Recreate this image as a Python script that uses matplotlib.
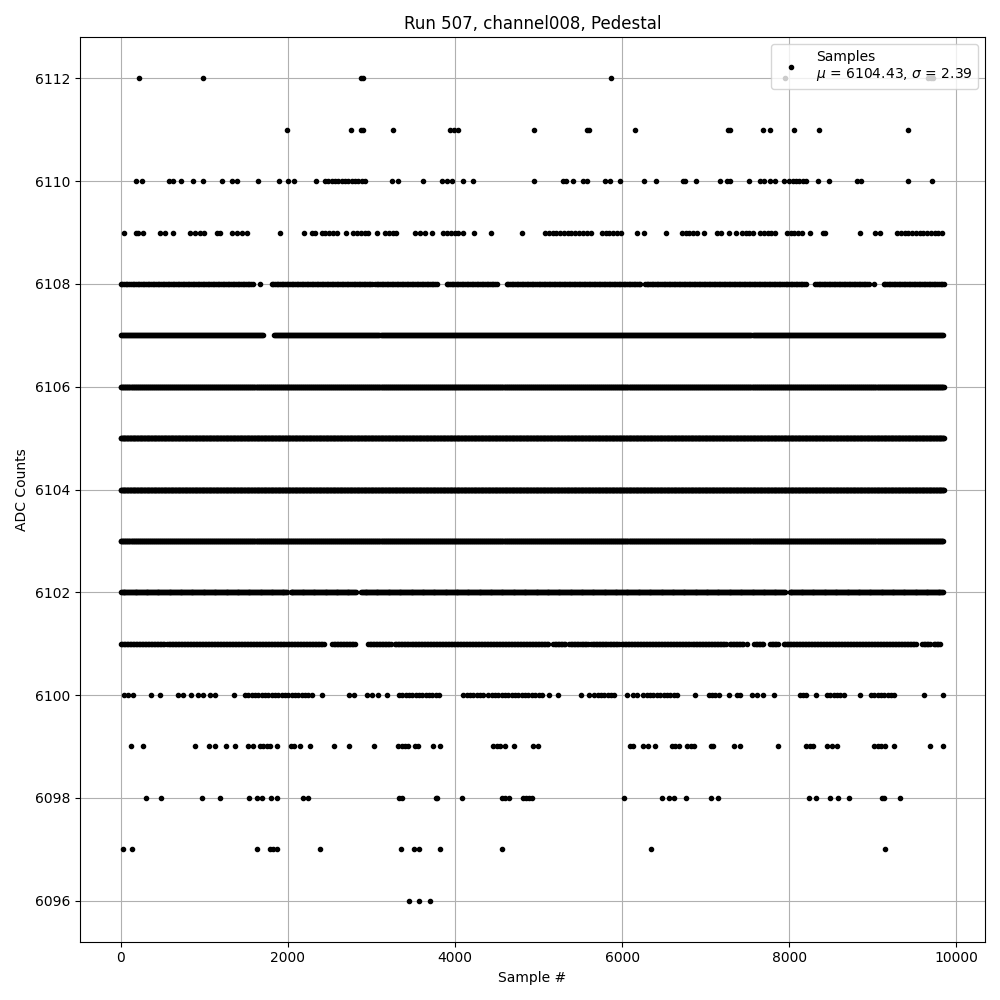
"""
Pedestal scan for run 507, channel008: ADC counts per sample.
Dense levels are stored as runs of consecutive samples (start, end) read from
the plot, sparse levels as lists of individual sample numbers.
"""

import numpy as np
import matplotlib
matplotlib.use("Agg")
import matplotlib.pyplot as plt

RUN = 507
CHANNEL = "channel008"
MU = 6104.43
SIGMA = 2.39

# --- dense levels: runs of samples, and the sample spacing inside a run ---
RUNS_6101 = [(0, 527), (555, 2443), (2531, 2814), (2962, 3241), (3281, 5118),
             (5178, 5337), (5365, 5497), (5517, 5597), (5629, 5816), (5836, 5976),
             (5996, 7254), (7285, 7453), (7580, 7692), (7772, 7872), (7932, 9529),
             (9589, 9688), (9728, 9808)]
RUNS_6102 = [(0, 1992), (2032, 2814), (2874, 7952), (8004, 9850)]
RUNS_6103 = [(0, 9840)]
RUNS_6104 = [(0, 9850)]
RUNS_6105 = [(0, 9850)]
RUNS_6106 = [(0, 9850)]
RUNS_6107 = [(0, 1705), (1836, 9850)]
RUNS_6108 = [(0, 1585), (1805, 3022), (3042, 3800), (3900, 4519), (4619, 6235),
             (6275, 8212), (8312, 8970), (9130, 9850)]
# sparse levels with a few tight clusters
RUNS_6100 = [(1485, 2303), (3329, 3840), (4100, 4359), (4399, 5058), (5665, 5916),
             (6255, 6675), (7034, 7182), (7373, 7433), (8124, 8231), (8451, 8651),
             (8978, 9269)]
RUNS_6109 = [(2403, 2583), (2783, 3002), (3162, 3341), (3860, 4060), (5078, 5497),
             (5537, 5657), (5757, 5996), (6715, 6895), (7134, 7214), (7433, 7572),
             (7652, 7852), (7972, 8172), (9290, 9850)]
RUNS_6110 = [(2443, 2942), (8000, 8212)]

LEVEL_STEP = {6100: 40, 6101: 18, 6102: 11, 6103: 8, 6104: 7, 6105: 7,
              6106: 8, 6107: 12, 6108: 20, 6109: 45, 6110: 40}

# --- isolated samples ---
PTS_6096 = [3453, 3565, 3701]
PTS_6097 = [28, 128, 1633, 1785, 1825, 1864, 2387, 3349, 3513, 3569, 3824, 4567,
            6351, 9141]
PTS_6098 = [307, 483, 974, 1189, 1537, 1625, 1685, 1793, 1864, 2176, 2243, 3330,
            3360, 3770, 3790, 4080, 4560, 4595, 4640, 4811, 4850, 4880, 4920, 6028,
            6471, 6555, 6615, 6770, 7069, 7153, 8231, 8323, 8483, 8579, 8711, 9110,
            9135, 9321]
PTS_6099 = [120, 267, 886, 1058, 1126, 1257, 1365, 1525, 1585, 1665, 1705, 1745,
            1785, 1864, 2032, 2072, 2144, 2264, 2555, 2734, 3030, 3321, 3361, 3401,
            3441, 3521, 3561, 3741, 3821, 4459, 4499, 4539, 4599, 4707, 4938, 4998,
            6088, 6135, 6247, 6315, 6399, 6595, 6635, 6675, 6775, 6820, 6863, 7063,
            7083, 7333, 7413, 7860, 8204, 8244, 8283, 8451, 8511, 8571, 9018, 9060,
            9100, 9150, 9249, 9689, 9841]
PTS_6100 = [40, 90, 150, 367, 467, 687, 747, 846, 926, 986, 1066, 1126, 1353, 2403,
            2734, 2790, 2942, 3002, 3082, 3182, 5129, 5237, 5505, 5609, 6056, 6135,
            6176, 6874, 7273, 7553, 7613, 7680, 7812, 8323, 8850, 9609, 9841]
PTS_6101 = [7493]
PTS_6108 = [1665, 9010]
PTS_6109 = [40, 180, 207, 267, 467, 527, 627, 826, 886, 946, 994, 1154, 1186, 1326,
            1386, 1446, 1506, 1904, 2192, 2284, 2324, 2691, 3062, 3521, 3581, 3641,
            3721, 4100, 4231, 4427, 4806, 6176, 6256, 6527, 6982, 7273, 7365, 8243,
            8403, 8431, 8842, 9030, 9082]
PTS_6110 = [180, 248, 579, 627, 715, 866, 986, 1213, 1333, 1393, 1644, 1896, 2004,
            2072, 2339, 3241, 3321, 3620, 3840, 3900, 3960, 4100, 4219, 4946, 5290,
            5329, 5417, 5529, 5585, 5797, 5856, 5976, 6267, 6407, 6727, 6754, 6886,
            7173, 7254, 7293, 7513, 7645, 7692, 7772, 7832, 7932, 8339, 8471, 8811,
            8862, 9417, 9708]
PTS_6111 = [1992, 2758, 2880, 2900, 3261, 3940, 3988, 4040, 4950, 5585, 5600, 6159,
            7261, 7293, 7680, 7772, 8052, 8355, 9425]
PTS_6112 = [219, 986, 2875, 2895, 5868, 7944, 9665, 9700, 9725]

RUNS = {6100: RUNS_6100, 6101: RUNS_6101, 6102: RUNS_6102, 6103: RUNS_6103,
        6104: RUNS_6104, 6105: RUNS_6105, 6106: RUNS_6106, 6107: RUNS_6107,
        6108: RUNS_6108, 6109: RUNS_6109, 6110: RUNS_6110}
POINTS = {6096: PTS_6096, 6097: PTS_6097, 6098: PTS_6098, 6099: PTS_6099,
          6100: PTS_6100, 6101: PTS_6101, 6108: PTS_6108, 6109: PTS_6109,
          6110: PTS_6110, 6111: PTS_6111, 6112: PTS_6112}


def collect():
    xs, ys = [], []
    for level, runs in RUNS.items():
        for a, b in runs:
            s = np.arange(a, b + 1, LEVEL_STEP[level])
            xs.append(s)
            ys.append(np.full(len(s), level))
    for level, pts in POINTS.items():
        xs.append(np.asarray(pts))
        ys.append(np.full(len(pts), level))
    return np.concatenate(xs), np.concatenate(ys)


def main():
    x, y = collect()
    fig, ax = plt.subplots(figsize=(10, 10), dpi=100)
    ax.plot(x, y, ".", color="black", linestyle="none",
            label=f"Samples\n$\\mu$ = {MU:.2f}, $\\sigma$ = {SIGMA:.2f}")
    ax.set_title(f"Run {RUN}, {CHANNEL}, Pedestal")
    ax.set_xlabel("Sample #")
    ax.set_ylabel("ADC Counts")
    ax.set_yticks(np.arange(6096, 6113, 2))
    ax.ticklabel_format(axis="y", useOffset=False, style="plain")
    ax.grid(True)
    ax.legend(loc="upper right")
    fig.tight_layout()
    fig.savefig("out.png", dpi=100)
    plt.close(fig)


if __name__ == "__main__":
    main()
